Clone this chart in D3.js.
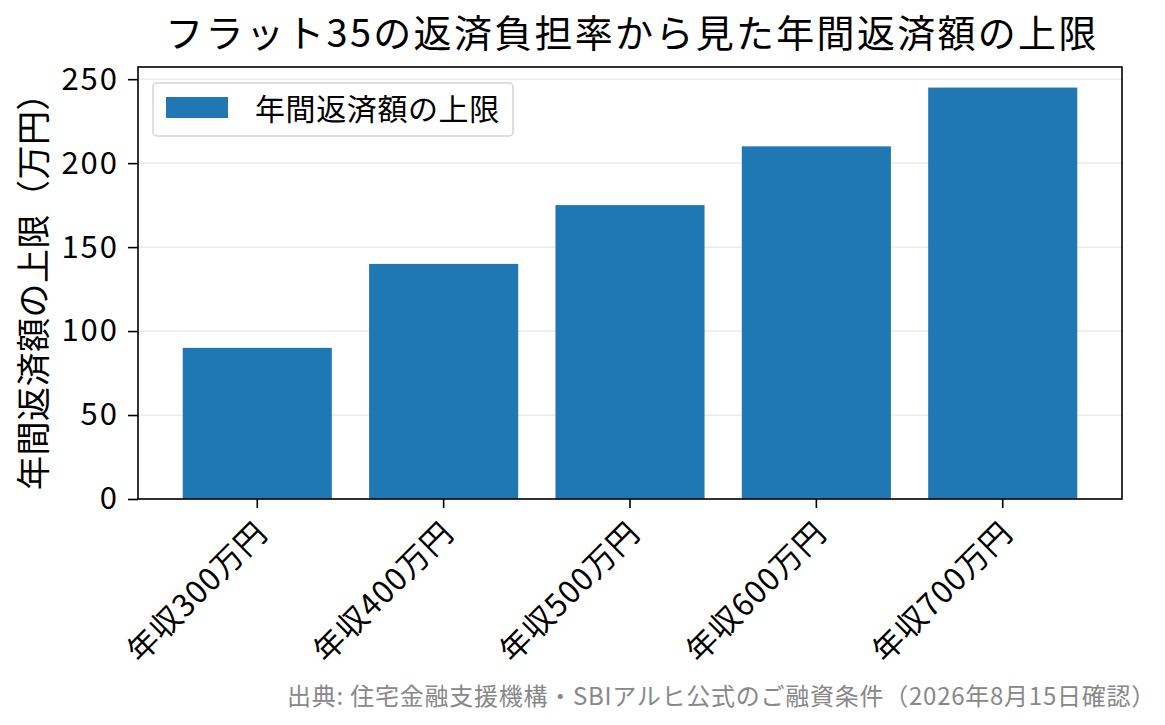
<!DOCTYPE html>
<html>
<head>
<meta charset="utf-8">
<script src="https://cdn.jsdelivr.net/npm/d3@7"></script>
<style>
	body { margin: 0; background: #fff; }
	svg { font-family: "Noto Sans CJK JP", "Noto Sans", sans-serif; }
</style>
</head>
<body>
<div id="chart"></div>
<script>
// Chart data
const categories = ["年収300万円", "年収400万円", "年収500万円", "年収600万円", "年収700万円"];
const values = [90, 140, 175, 210, 245];
const yTicks = [0, 50, 100, 150, 200, 250];
const seriesName = "年間返済額の上限";
const title = "フラット35の返済負担率から見た年間返済額の上限";
const yLabel = "年間返済額の上限（万円）";
const source = "出典: 住宅金融支援機構・SBIアルヒ公式のご融資条件（2026年8月15日確認）";

const width = 1165, height = 725;
const margin = { top: 67, right: 43, bottom: 226, left: 138 };
const barColor = "#1f77b4";

const svg = d3.select("#chart")
	.append("svg")
	.attr("width", width)
	.attr("height", height);

const xScale = d3.scaleBand()
	.domain(categories)
	.range([margin.left, width - margin.right])
	.paddingInner(0.2)
	.paddingOuter(0.24);

const yScale = d3.scaleLinear()
	.domain([0, d3.max(values) * 1.05])
	.range([height - margin.bottom, margin.top]);

// grid
svg.append("g")
	.selectAll("line")
	.data(yTicks)
	.enter()
	.append("line")
	.attr("x1", margin.left)
	.attr("x2", width - margin.right)
	.attr("y1", (d) => yScale(d))
	.attr("y2", (d) => yScale(d))
	.attr("stroke", "#e6e6e6")
	.attr("stroke-width", 1.2);

// bars
svg.append("g")
	.selectAll("rect")
	.data(values)
	.enter()
	.append("rect")
	.attr("x", (d, i) => xScale(categories[i]))
	.attr("y", (d) => yScale(d))
	.attr("width", xScale.bandwidth())
	.attr("height", (d) => yScale(0) - yScale(d))
	.attr("fill", barColor);

// axes
const yAxis = d3.axisLeft(yScale).tickValues(yTicks).tickSize(10).tickPadding(9);
const gy = svg.append("g")
	.attr("transform", `translate(${margin.left},0)`)
	.call(yAxis);
gy.select(".domain").remove();
gy.selectAll("text")
	.attr("font-size", 31)
	.attr("letter-spacing", 2)
	.attr("fill", "#000")
	.attr("font-family", "'Noto Sans CJK JP', sans-serif");
gy.selectAll("line").attr("stroke", "#000").attr("stroke-width", 1.6);

const xAxis = d3.axisBottom(xScale).tickSize(9).tickPadding(5);
const gx = svg.append("g")
	.attr("transform", `translate(0,${height - margin.bottom})`)
	.call(xAxis);
gx.select(".domain").remove();
gx.selectAll("line").attr("stroke", "#000").attr("stroke-width", 1.6);
gx.selectAll("text")
	.attr("font-size", 31)
	.attr("letter-spacing", 1)
	.attr("fill", "#000")
	.attr("font-family", "'Noto Sans CJK JP', sans-serif")
	.attr("text-anchor", "end")
	.attr("dy", 0)
	.attr("y", 0)
	.attr("x", 0)
	.attr("transform", "translate(12,36) rotate(-45)");

// frame
svg.append("rect")
	.attr("x", margin.left)
	.attr("y", margin.top)
	.attr("width", width - margin.left - margin.right)
	.attr("height", height - margin.top - margin.bottom)
	.attr("fill", "none")
	.attr("stroke", "#000")
	.attr("stroke-width", 1.6);

// legend
const legend = svg.append("g").attr("transform", "translate(153,83)");
legend.append("rect")
	.attr("width", 360)
	.attr("height", 53)
	.attr("rx", 4)
	.attr("fill", "#fff")
	.attr("fill-opacity", 0.8)
	.attr("stroke", "#d3d3d3")
	.attr("stroke-width", 1.5);
legend.append("rect")
	.attr("x", 13)
	.attr("y", 14)
	.attr("width", 62)
	.attr("height", 21)
	.attr("fill", barColor);
legend.append("text")
	.attr("x", 102)
	.attr("y", 26)
	.attr("dy", "0.35em")
	.attr("font-size", 30)
	.attr("letter-spacing", 0.6)
	.text(seriesName);

// title
svg.append("text")
	.attr("x", (margin.left + width - margin.right) / 2 + 2)
	.attr("y", 34)
	.attr("dy", "0.35em")
	.attr("text-anchor", "middle")
	.attr("font-size", 38)
	.attr("letter-spacing", 2.3)
	.text(title);

// y label
svg.append("text")
	.attr("transform", `translate(34,${(margin.top + height - margin.bottom) / 2}) rotate(-90)`)
	.attr("text-anchor", "middle")
	.attr("dy", "0.35em")
	.attr("font-size", 34)
	.attr("letter-spacing", 0.5)
	.text(yLabel);

// source
svg.append("text")
	.attr("x", 1156)
	.attr("y", 697)
	.attr("dy", "0.35em")
	.attr("text-anchor", "end")
	.attr("font-size", 24)
	.attr("letter-spacing", 0.75)
	.attr("fill", "#888")
	.text(source);
</script>
</body>
</html>
